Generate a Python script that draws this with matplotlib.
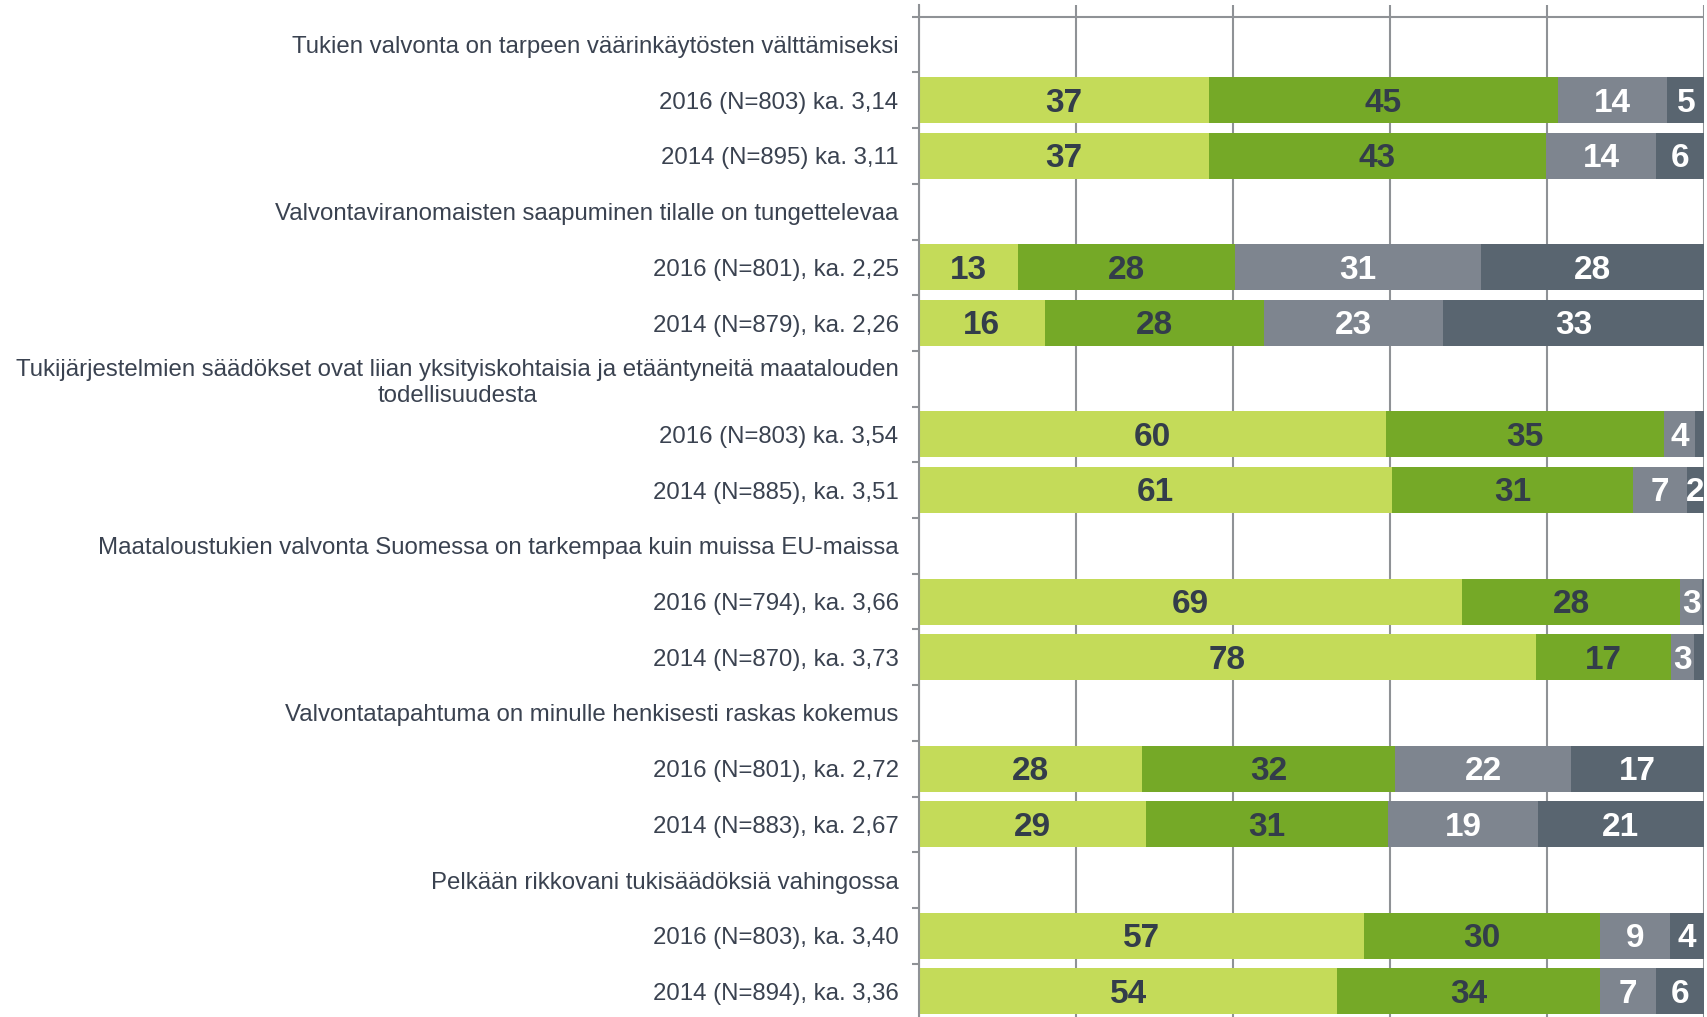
import matplotlib.pyplot as plt
from matplotlib.ticker import FixedLocator

plt.rcParams["font.family"] = ["Liberation Sans", "DejaVu Sans"]

# Statements (group headers)
kysymykset = [
    "Tukien valvonta on tarpeen väärinkäytösten välttämiseksi",
    "Valvontaviranomaisten saapuminen tilalle on tungettelevaa",
    "Tukijärjestelmien säädökset ovat liian yksityiskohtaisia ja etääntyneitä maatalouden\ntodellisuudesta",
    "Maataloustukien valvonta Suomessa on tarkempaa kuin muissa EU-maissa",
    "Valvontatapahtuma on minulle henkisesti raskas kokemus",
    "Pelkään rikkovani tukisäädöksiä vahingossa",
]

# Year rows, two per statement
vuodet = [
    "2016 (N=803) ka. 3,14", "2014 (N=895) ka. 3,11",
    "2016 (N=801), ka. 2,25", "2014 (N=879), ka. 2,26",
    "2016 (N=803) ka. 3,54", "2014 (N=885), ka. 3,51",
    "2016 (N=794), ka. 3,66", "2014 (N=870), ka. 3,73",
    "2016 (N=801), ka. 2,72", "2014 (N=883), ka. 2,67",
    "2016 (N=803), ka. 3,40", "2014 (N=894), ka. 3,36",
]

# Segment widths (%)
osuus_1 = [36.9, 36.9, 12.6, 16.0, 59.5, 60.3, 69.2, 78.6, 28.4, 28.9, 56.7, 53.3]
osuus_2 = [44.5, 43.0, 27.6, 27.9, 35.4, 30.6, 27.8, 17.2, 32.3, 30.9, 30.1, 33.5]
osuus_3 = [13.9, 14.0, 31.4, 22.9, 4.0, 6.9, 2.8, 2.9, 22.3, 19.0, 8.9, 7.1]
osuus_4 = [4.8, 6.2, 28.4, 33.2, 1.1, 2.2, 0.2, 1.3, 17.0, 21.2, 4.3, 6.1]

# Printed labels
teksti_1 = [37, 37, 13, 16, 60, 61, 69, 78, 28, 29, 57, 54]
teksti_2 = [45, 43, 28, 28, 35, 31, 28, 17, 32, 31, 30, 34]
teksti_3 = [14, 14, 31, 23, 4, 7, 3, 3, 22, 19, 9, 7]
teksti_4 = [5, 6, 28, 33, None, 2, None, None, 17, 21, 4, 6]

varit = ["#c4db59", "#75a927", "#7e858f", "#596570"]
tekstivarit = ["#333d4a", "#333d4a", "white", "white"]
harmaa = "#8f9296"
tekstiharmaa = "#3a4250"

# Row layout: header, 2016, 2014 per statement
rivit = []
bar_pos = []
for i, k in enumerate(kysymykset):
    rivit.append(k)
    rivit.append(vuodet[2 * i])
    rivit.append(vuodet[2 * i + 1])
    bar_pos += [3 * i + 1, 3 * i + 2]

fig = plt.figure(figsize=(17.08, 10.17), dpi=100)
ax = fig.add_axes([919 / 1708, 0, 785 / 1708, 1 - 5 / 1017])

rowpx = 55.7
top = -0.5 - 11.7 / rowpx
ax.set_ylim(top + 1012 / rowpx, top)
ax.set_xlim(0, 100)

left = [0] * len(bar_pos)
for vals, labs, c, tc in zip([osuus_1, osuus_2, osuus_3, osuus_4],
                             [teksti_1, teksti_2, teksti_3, teksti_4],
                             varit, tekstivarit):
    ax.barh(bar_pos, vals, left=left, height=0.826, color=c, zorder=3)
    for y, l, v, t in zip(bar_pos, left, vals, labs):
        if t is not None:
            ax.text(l + v / 2, y + 0.05, str(t), ha="center", va="center",
                    fontsize=24, fontweight="bold", color=tc, zorder=4)
    left = [a + b for a, b in zip(left, vals)]

# vertical gridlines
for x in range(0, 101, 20):
    ax.axvline(x, color=harmaa, lw=1.5, zorder=1)
ax.axhline(-0.5, color=harmaa, lw=1.5, zorder=1)

for s in ["top", "right", "bottom"]:
    ax.spines[s].set_visible(False)
ax.spines["left"].set_color(harmaa)
ax.spines["left"].set_linewidth(1.5)
ax.spines["left"].set_zorder(5)

ax.set_xticks([])
ax.set_yticks(range(len(rivit)))
ax.set_yticklabels(rivit, fontsize=17.3, color=tekstiharmaa, multialignment="center")
ax.tick_params(axis="y", which="major", length=0, pad=14.7)
ax.yaxis.set_minor_locator(FixedLocator([i - 0.5 for i in range(len(rivit) + 1)]))
ax.tick_params(axis="y", which="minor", length=5, width=1.5, color=harmaa)

plt.savefig("out.png", dpi=100)
